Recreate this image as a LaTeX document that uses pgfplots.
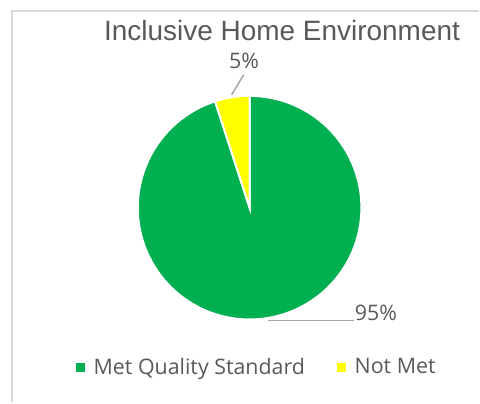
\documentclass[border=0pt]{standalone}
\usepackage{pgfplots}
\usepackage{pgfplotstable}
\pgfplotsset{compat=1.18}
\usepackage{fontspec}
\setmainfont{Open Sans}
\newfontfamily\titlefont{Liberation Sans}
\definecolor{metgreen}{HTML}{00B050}
\definecolor{notmet}{HTML}{FFFF00}
\definecolor{txtgray}{HTML}{595959}
\definecolor{framegray}{HTML}{D9D9D9}
\definecolor{leadergray}{HTML}{A6A6A6}

\pgfplotstableread{
label value
Met 95
NotMet 5
}\piedata
\pgfplotstablegetelem{0}{value}\of\piedata \let\valMet\pgfplotsretval
\pgfplotstablegetelem{1}{value}\of\piedata \let\valNot\pgfplotsretval
\pgfmathsetmacro{\angA}{90}
\pgfmathsetmacro{\angB}{90+3.6*\valNot}
\pgfmathsetmacro{\angC}{\angB+3.6*\valMet}

\begin{document}
\begin{tikzpicture}
\begin{axis}[
  width=240pt, height=201.5pt, scale only axis,
  xmin=0, xmax=480, ymin=0, ymax=403, y dir=reverse,
  hide axis, clip=false,
  legend image code/.code={\fill[#1] (0pt,-2pt) rectangle (4pt,2pt);},
  legend columns=2,
  legend cell align=left,
  legend style={at={(axis cs:76,368)}, anchor=west, draw=none, fill=none,
    inner sep=0pt, outer sep=0pt,
    font=\fontsize{10.7}{12}\selectfont, text=txtgray,
    nodes={inner sep=2pt},
    /tikz/every odd column/.append style={column sep=2.5pt},
    /tikz/every even column/.append style={column sep=14pt}},
]
\path (axis cs:0,0) rectangle (axis cs:480,403);
\draw[framegray, line width=0.75pt] (axis cs:12,403) -- (axis cs:12,11) -- (axis cs:480,11);

\addplot[fill=metgreen, draw=white, line width=1pt, domain=\angB:\angC, samples=120, variable=\t, forget plot]
  ({250+112*cos(t)},{208-112*sin(t)}) -- (axis cs:250,208) -- cycle;
\addplot[fill=notmet, draw=white, line width=1pt, domain=\angA:\angB, samples=20, variable=\t, forget plot]
  ({250+112*cos(t)},{208-112*sin(t)}) -- (axis cs:250,208) -- cycle;

\addlegendimage{metgreen}
\addlegendentry{Met Quality Standard}
\addlegendimage{notmet}
\addlegendentry{Not Met}

\draw[leadergray, line width=0.75pt] (axis cs:244,75) -- (axis cs:232,95);
\draw[leadergray, line width=0.75pt] (axis cs:268,321) -- (axis cs:355,321);

\node[anchor=base, inner sep=0pt, font=\titlefont\fontsize{14}{16}\selectfont, text=txtgray] at (axis cs:282.5,41) {Inclusive Home Environment};
\node[anchor=base, inner sep=0pt, font=\fontsize{10.7}{12}\selectfont, text=txtgray] at (axis cs:244.5,69) {5\%};
\node[anchor=base west, inner sep=0pt, font=\fontsize{10.7}{12}\selectfont, text=txtgray] at (axis cs:355,321) {95\%};
\end{axis}
\end{tikzpicture}
\end{document}
